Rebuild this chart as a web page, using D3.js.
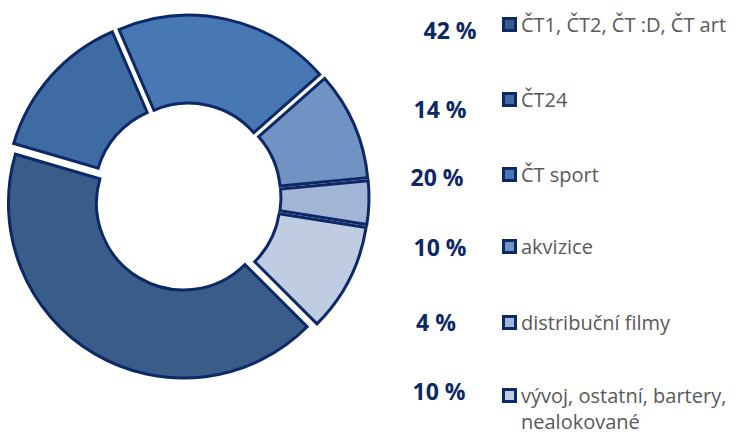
<!DOCTYPE html>
<html>
<head>
<meta charset="utf-8">
<script src="https://cdn.jsdelivr.net/npm/d3@7"></script>
<style>
  body { margin: 0; background: #fff; }
</style>
</head>
<body>
<svg id="chart" width="742" height="435"></svg>
<script>
// data
const categories = ["ČT1, ČT2, ČT :D, ČT art", "ČT24", "ČT sport", "akvizice", "distribuční filmy", "vývoj, ostatní, bartery, nealokované"];
const shares = [42, 14, 20, 10, 4, 10];
const shareLabels = ["42 %", "14 %", "20 %", "10 %", "4 %", "10 %"];

const colors = ["#3a5c89", "#3f6ba3", "#4878b3", "#7093c4", "#a3b5d6", "#c0cce2"];
const strokeCol = "#0c2866";

let width = 742, height = 435;
let cx = 187, cy = 197, outerR = 175, innerR = 87, explode = 7;

let svg = d3.select("#chart");

let pie = d3.pie().sort(null).value(d => d)
    .startAngle(Math.PI * 0.75).endAngle(Math.PI * 2.75);
let arc = d3.arc().innerRadius(innerR).outerRadius(outerR);

let g = svg.append("g").attr("transform", "translate(" + cx + "," + cy + ")");

g.selectAll("path")
    .data(pie(shares))
    .enter()
    .append("path")
    .attr("d", arc)
    .attr("transform", function(d) {
        let a = (d.startAngle + d.endAngle) / 2;
        return "translate(" + (Math.sin(a) * explode) + "," + (-Math.cos(a) * explode) + ")";
    })
    .attr("fill", (d, i) => colors[i])
    .attr("stroke", strokeCol)
    .attr("stroke-width", 3)
    .attr("stroke-linejoin", "miter");

// legend
let legY = [25, 100, 175, 247, 323, 396];
let pctY = [31, 110, 178, 248, 323, 392];
let pctX = [450, 440, 437, 440, 436, 439];

let leg = svg.selectAll(".leg")
    .data(categories)
    .enter()
    .append("g")
    .attr("class", "leg")
    .attr("transform", (d, i) => "translate(502," + legY[i] + ")");

leg.append("rect")
    .attr("x", 1.5).attr("y", -6.5)
    .attr("width", 12).attr("height", 12)
    .attr("fill", (d, i) => colors[i])
    .attr("stroke", strokeCol)
    .attr("stroke-width", 3);

leg.append("text")
    .attr("x", 19)
    .attr("dy", "0.35em")
    .attr("font-family", "Open Sans, sans-serif")
    .attr("font-size", "20px")
    .attr("fill", "#595959")
    .each(function(d) {
        let t = d3.select(this);
        if (d.indexOf("bartery") >= 0) {
            t.append("tspan").attr("x", 19).text("vývoj, ostatní, bartery,");
            t.append("tspan").attr("x", 19).attr("dy", "1.3em").text("nealokované");
        } else {
            t.text(d);
        }
    });

svg.selectAll(".pct")
    .data(shareLabels)
    .enter()
    .append("text")
    .attr("class", "pct")
    .attr("x", (d, i) => pctX[i])
    .attr("y", (d, i) => pctY[i])
    .attr("dy", "0.35em")
    .attr("text-anchor", "middle")
    .attr("font-family", "Open Sans, sans-serif")
    .attr("font-weight", "bold")
    .attr("font-size", "23px")
    .attr("fill", "#0c2866")
    .text(d => d);
</script>
</body>
</html>
